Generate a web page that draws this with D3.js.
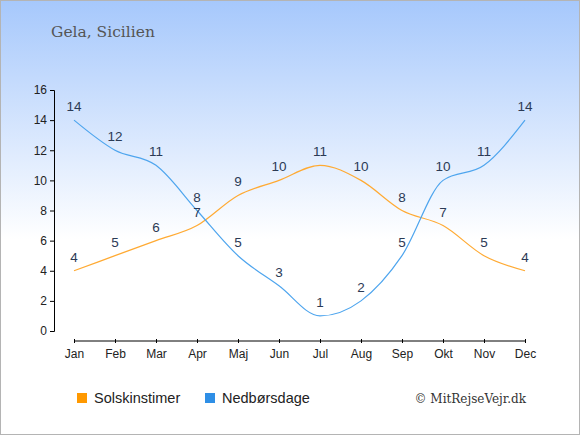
<!DOCTYPE html>
<html lang="da">
<head>
<meta charset="UTF-8">
<title>Gela, Sicilien</title>
<script src="https://d3js.org/d3.v7.min.js"></script>
<style>
    body { margin: 0; }
    svg text { font-family: "Liberation Sans", Arial, sans-serif; }
</style>
</head>
<body>
<svg width="580" height="435"></svg>
<script>
    // chart data
    const months = ["Jan", "Feb", "Mar", "Apr", "Maj", "Jun", "Jul", "Aug", "Sep", "Okt", "Nov", "Dec"];
    const sunHours = [4, 5, 6, 7, 9, 10, 11, 10, 8, 7, 5, 4];
    const rainDays = [14, 12, 11, 8, 5, 3, 1, 2, 5, 10, 11, 14];
    const yTicks = [0, 2, 4, 6, 8, 10, 12, 14, 16];

    const svg = d3.select("svg");
    const W = 580, H = 435;

    // background gradient
    const grad = svg.append("defs").append("linearGradient")
        .attr("id", "bg").attr("x1", 0).attr("y1", 0).attr("x2", 0).attr("y2", 1);
    grad.append("stop").attr("offset", "0%").attr("stop-color", "#a6c8fc");
    grad.append("stop").attr("offset", "55%").attr("stop-color", "#ffffff");
    grad.append("stop").attr("offset", "100%").attr("stop-color", "#ffffff");

    svg.append("rect")
        .attr("x", 0.5).attr("y", 0.5).attr("width", W - 1).attr("height", H - 1)
        .attr("fill", "url(#bg)").attr("stroke", "#b4b4b4");

    svg.append("text")
        .attr("x", 51).attr("y", 37)
        .attr("fill", "#555")
        .style("font-family", "'DejaVu Serif', serif")
        .style("font-size", "15.5px")
        .text("Gela, Sicilien");

    const x = d3.scalePoint().domain(months).range([74, 525]);
    const y = d3.scaleLinear().domain([0, 16]).range([331, 90]);

    // y axis
    const yAxis = svg.append("g")
        .attr("transform", "translate(54,0)")
        .call(d3.axisLeft(y).tickValues(yTicks).tickSize(4).tickPadding(3));
    yAxis.selectAll("text").style("font-size", "12px").attr("fill", "#222");

    // x axis
    const xAxis = svg.append("g")
        .attr("transform", "translate(0,341)")
        .call(d3.axisBottom(x).tickSize(4).tickSizeOuter(0).tickPadding(4));
    xAxis.selectAll(".tick line").attr("y1", -2).attr("y2", 2);
    xAxis.selectAll("text").style("font-size", "12px").attr("fill", "#222");
    xAxis.select(".domain").attr("d", `M${x("Jan")},0H${x("Dec")}`);

    const line = d3.line()
        .x((d, i) => x(months[i]))
        .y(d => y(d))
        .curve(d3.curveMonotoneX);

    const series = [
        { values: sunHours, color: "#ffaa33" },
        { values: rainDays, color: "#4ea5ee" }
    ];

    series.forEach(s => {
        svg.append("path")
            .datum(s.values)
            .attr("d", line)
            .attr("fill", "none")
            .attr("stroke", s.color)
            .attr("stroke-width", 1.2);
    });

    series.forEach(s => {
        svg.append("g").selectAll("text")
            .data(s.values)
            .join("text")
            .attr("x", (d, i) => x(months[i]))
            .attr("y", d => y(d) - 9)
            .attr("text-anchor", "middle")
            .attr("fill", "#2b3a55")
            .style("font-size", "13.5px")
            .text(d => d);
    });

    // legend
    const legend = [
        { label: "Solskinstimer", color: "#ff9900", x: 77 },
        { label: "Nedbørsdage", color: "#2f8fe6", x: 205 }
    ];
    legend.forEach(l => {
        svg.append("rect")
            .attr("x", l.x).attr("y", 393).attr("width", 10).attr("height", 10)
            .attr("fill", l.color);
        svg.append("text")
            .attr("x", l.x + 17).attr("y", 403)
            .attr("fill", "#222")
            .style("font-size", "14.5px")
            .text(l.label);
    });

    svg.append("text")
        .attr("x", 526).attr("y", 403)
        .attr("text-anchor", "end")
        .attr("fill", "#333")
        .style("font-family", "'DejaVu Serif', serif")
        .style("font-size", "12px")
        .text("© MitRejseVejr.dk");
</script>
</body>
</html>
